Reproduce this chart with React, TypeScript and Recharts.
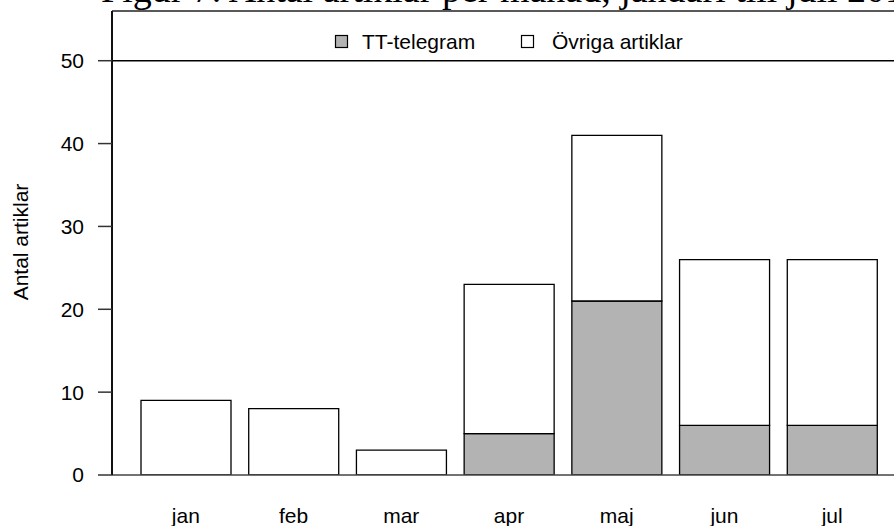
import React from 'react';
import { BarChart, Bar, XAxis, YAxis, ReferenceLine, Legend, Customized } from 'recharts';

const months = ['jan', 'feb', 'mar', 'apr', 'maj', 'jun', 'jul'];
const ttTelegram = [0, 0, 0, 5, 21, 6, 6];
const ovrigaArtiklar = [9, 8, 3, 18, 20, 20, 20];
const yTicks = [0, 10, 20, 30, 40, 50];
const seriesNames = ['TT-telegram', 'Övriga artiklar'];
const titleText = 'Figur 7. Antal artiklar per månad, januari till juli 201';
const yLabelText = 'Antal artiklar';

const data = months.map((m, i) => ({ month: m, tt: ttTelegram[i], ovriga: ovrigaArtiklar[i] }));

const SANS = '"Liberation Sans", Arial, Helvetica, sans-serif';
const SERIF = '"Liberation Serif", "Times New Roman", serif';

const LegendContent = () => (
  <svg width={894} height={60} style={{ display: 'block' }}>
    <rect x={335.5} y={35.5} width={12} height={12} fill="#b3b3b3" stroke="#000" strokeWidth={1.2} />
    <text x={362} y={49} fontFamily={SANS} fontSize={21} fill="#000">{seriesNames[0]}</text>
    <rect x={521.5} y={35.5} width={12} height={12} fill="#fff" stroke="#000" strokeWidth={1.2} />
    <text x={552} y={49} fontFamily={SANS} fontSize={21} fill="#000">{seriesNames[1]}</text>
  </svg>
);

const Extras = () => (
  <g>
    <text x={101} y={2} fontFamily={SERIF} fontSize={38} fill="#000">{titleText}</text>
    <text
      x={20}
      y={242}
      transform="rotate(-90, 20, 242)"
      textAnchor="middle"
      dominantBaseline="central"
      fontFamily={SANS}
      fontSize={21}
      fill="#000"
    >
      {yLabelText}
    </text>
  </g>
);

export default function App() {
  return (
    <div style={{ position: 'absolute', left: 0, top: 0 }}>
      <BarChart
        width={894}
        height={526}
        data={data}
        margin={{ top: 11, right: 0, bottom: 0, left: 0 }}
        barSize={90}
      >
        <XAxis
          dataKey="month"
          height={51}
          padding={{ left: 20, right: 8 }}
          tickLine={false}
          tickSize={0}
          tickMargin={33}
          axisLine={{ stroke: '#444', strokeWidth: 1.5 }}
          tick={{ fontFamily: SANS, fontSize: 21, fill: '#000' }}
          interval={0}
        />
        <YAxis
          width={112}
          domain={[0, 56]}
          ticks={yTicks}
          allowDataOverflow
          tickSize={14}
          tickMargin={14}
          axisLine={{ stroke: '#111', strokeWidth: 2 }}
          tickLine={{ stroke: '#333', strokeWidth: 1.5 }}
          tick={{ fontFamily: SANS, fontSize: 21, fill: '#000' }}
        />
        <ReferenceLine y={56} stroke="#222" strokeWidth={1.5} />
        <ReferenceLine y={50} stroke="#000" strokeWidth={1.5} />
        <Legend
          layout="horizontal"
          verticalAlign="middle"
          align="center"
          content={LegendContent}
          wrapperStyle={{ top: 0, left: 0, width: 894, height: 60 }}
        />
        <Bar dataKey="tt" name={seriesNames[0]} stackId="a" fill="#b3b3b3" stroke="#000" strokeWidth={1.3} isAnimationActive={false} />
        <Bar dataKey="ovriga" name={seriesNames[1]} stackId="a" fill="#fff" stroke="#000" strokeWidth={1.3} isAnimationActive={false} />
        <Customized component={Extras} />
      </BarChart>
    </div>
  );
}
